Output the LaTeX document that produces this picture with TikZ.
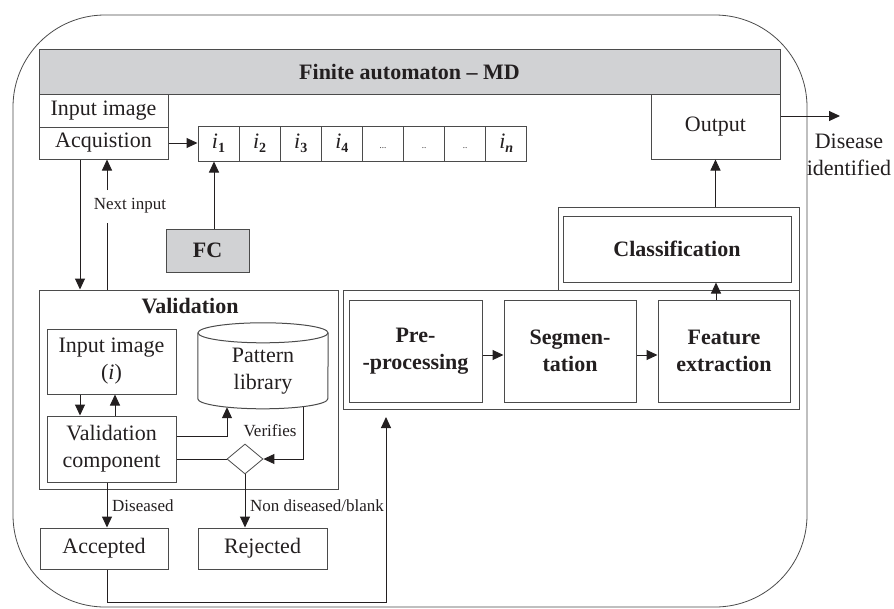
\documentclass[tikz,border=0pt]{standalone}
\usepackage{fontspec}
\setmainfont{Liberation Serif}
\usetikzlibrary{arrows.meta,shapes.geometric}
\definecolor{linec}{RGB}{75,75,75}
\definecolor{barfill}{RGB}{209,210,212}
\definecolor{ink}{RGB}{35,31,32}
\newcommand{\cellsub}[1]{\textit{i}\raisebox{-0.4ex}{\fontsize{14}{14}\selectfont\bfseries #1}}
\newcommand{\celldots}[1]{\fontsize{9}{9}\selectfont #1}
\begin{document}
\begin{tikzpicture}[x=1pt,y=-1pt,
  every node/.style={text=ink,font=\fontsize{22}{27}\selectfont},
  box/.style={draw=linec,line width=1pt,inner sep=0pt,align=center},
  boldbox/.style={box,font=\fontsize{22}{27}\selectfont\bfseries},
  arr/.style={draw=ink,line width=1pt,-{Triangle[length=11pt,width=10pt]}},
  lbl/.style={font=\fontsize{17}{20}\selectfont}]
\useasboundingbox (0,0) rectangle (894,608);
\draw[linec,line width=0.8pt,rounded corners=92pt] (13,15) rectangle (807,607);

\node[boldbox,fill=barfill,minimum width=741,minimum height=45] (bar) at (409.5,71.5) {Finite automaton -- MD};
\node[box,minimum width=129,minimum height=33] (inimg) at (103.5,110.5) {Input image};
\node[box,minimum width=129,minimum height=32] (acq) at (103.5,143) {Acquistion};
\node[box,minimum width=129,minimum height=65] (out) at (715.5,126.5) {Output};
\foreach \lab [count=\k] in {\cellsub{1},\cellsub{2},\cellsub{3},\cellsub{4},\celldots{...},\celldots{..},\celldots{..},\cellsub{\textit{n}}}
  \node[box,minimum width=41.1,minimum height=35] (c\k) at ({198+41.1*\k-20.55},143.5) {\strut\lab};
\node[boldbox,fill=barfill,minimum width=83,minimum height=43] (fc) at (207.5,250.5) {FC};

% validation part
\node[box,minimum width=299,minimum height=199] (valid) at (188.5,389.5) {};
\node[font=\fontsize{22}{27}\selectfont\bfseries] (vtitle) at (190,306) {Validation};
\node[box,minimum width=129,minimum height=65] (inimgi) at (111.5,361.5) {Input image\\(\textit{i})};
\node[box,minimum width=129,minimum height=66] (vcomp) at (111.5,449) {Validation\\component};
\node[align=center,inner sep=0pt,minimum width=130,minimum height=76] (lib) at (263,371) {Pattern\\library};
\draw[linec,line width=1pt] (lib.north) ellipse [x radius=65,y radius=10];
\draw[linec,line width=1pt] (lib.north west) -- ++(0,66)
  arc [start angle=180,end angle=0,x radius=65,y radius=10] -- (lib.north east);
\node[draw=linec,line width=0.8pt,diamond,minimum width=36,minimum height=30,inner sep=0pt] (dia) at (245,459) {};
\node[box,minimum width=128,minimum height=41] (acc) at (104,548.5) {Accepted};
\node[box,minimum width=129,minimum height=41] (rej) at (262.5,548.5) {Rejected};

% processing part
\node[box,minimum width=456,minimum height=119] (procgrp) at (571,349.5) {};
\node[boldbox,minimum width=133,minimum height=102] (pre) at (415.5,351) {Pre-\\-processing};
\node[boldbox,minimum width=132,minimum height=102] (seg) at (570,351) {Segmen-\\tation};
\node[boldbox,minimum width=132,minimum height=102] (feat) at (724,351) {Feature\\extraction};
\node[box,minimum width=241,minimum height=83] (clsgrp) at (678.5,248.5) {};
\node[boldbox,minimum width=228,minimum height=66] (cls) at (677,249) {Classification};

\node[lbl] (nxt) at (130,206) {Next input};
\node[lbl] (ver) at (270,431) {Verifies};
\node[lbl,anchor=west,inner sep=0pt] (dlab) at (112,506) {Diseased};
\node[lbl,anchor=west,inner sep=0pt] (nlab) at (250,506) {Non diseased/blank};
\node[align=center] (dis) at (849,155) {Disease\\identified};

\coordinate (nxtlo) at (107,223);
\coordinate (nxthi) at (107,190);
\coordinate (ret) at (386,417);
\coordinate (outend) at (840,116);

\draw[arr] (acq.east) -- (acq.east -| c1.west);
\draw[arr] ([xshift=6.5pt]fc.north) -- ([xshift=6.5pt]fc.north |- c1.south);
\draw[arr] ([xshift=-23.5pt]acq.south) -- ([xshift=-23.5pt]acq.south |- valid.north);
\draw[ink,line width=1pt] (valid.north -| nxtlo) -- (nxtlo);
\draw[arr] (nxthi) -- (nxthi |- acq.south);
\draw[arr] ([xshift=-31.5pt]inimgi.south) -- ([xshift=-31.5pt]inimgi.south |- vcomp.north);
\draw[arr] ([xshift=3.5pt]vcomp.north) -- ([xshift=3.5pt]vcomp.north |- inimgi.south);
\draw[arr] ([yshift=13pt]vcomp.east) -| ([xshift=-36pt,yshift=2pt]lib.south);
\draw[arr] ([xshift=40pt,yshift=2pt]lib.south) |- (dia.east);
\draw[ink,line width=1pt] (vcomp.east |- dia.west) -- (dia.west);
\draw[arr] ([xshift=-4.5pt]vcomp.south) -- ([xshift=-4.5pt]vcomp.south |- acc.north);
\draw[arr] (dia.south) -- (dia.south |- rej.north);
\draw[arr] ([xshift=3pt]acc.south) -- ++(0,33) -| (ret);
\draw[arr] ([yshift=-4pt]pre.east) -- ([yshift=-4pt]seg.west);
\draw[arr] ([yshift=-4pt]seg.east) -- ([yshift=-4pt]feat.west);
\draw[arr] ([xshift=-8pt]feat.north) -- ([xshift=-8pt]feat.north |- cls.south);
\draw[arr] (clsgrp.north -| out.south) -- (out.south);
\draw[arr] (out.east |- outend) -- (outend);
\end{tikzpicture}
\end{document}
